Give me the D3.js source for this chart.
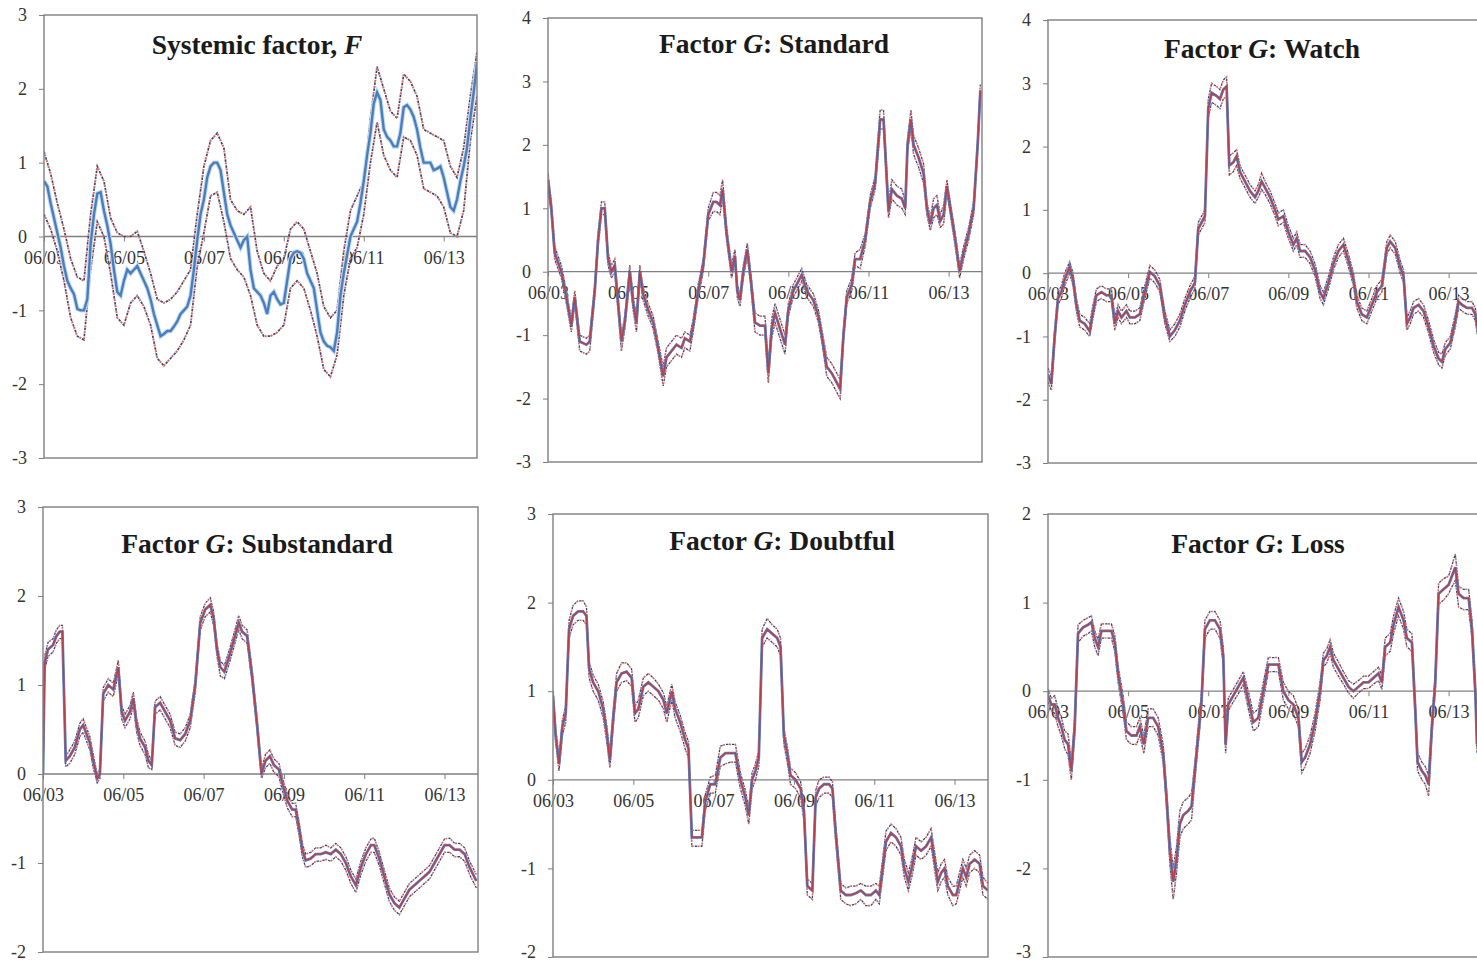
<!DOCTYPE html>
<html>
<head>
<meta charset="utf-8">
<script src="https://cdn.jsdelivr.net/npm/d3@7"></script>
<style>
  body { margin: 0; background: #fff; }
  svg { display: block; font-family: "Liberation Serif", "Times New Roman", serif; }
</style>
</head>
<body>
<svg id="chart"></svg>
<script>
// months counted from June 2003
const xTickMonths = [0, 24, 48, 72, 96, 120];
const xTickLabels = ['06/03', '06/05', '06/07', '06/09', '06/11', '06/13'];

// Systemic factor F: monthly mean, bands every two months
const fMid = [0.75,0.68,0.45,0.25,0.05,-0.15,-0.4,-0.6,-0.7,-0.78,
  -0.98,-1.0,-1.0,-0.85,-0.1,0.3,0.58,0.6,0.35,0.15,
  -0.1,-0.45,-0.75,-0.8,-0.6,-0.45,-0.5,-0.45,-0.4,-0.5,
  -0.6,-0.7,-0.85,-1.05,-1.2,-1.35,-1.32,-1.28,-1.28,-1.22,
  -1.15,-1.05,-1.0,-0.95,-0.8,-0.45,-0.05,0.3,0.5,0.8,
  0.95,1.0,1.0,0.9,0.6,0.3,0.15,0.05,-0.05,-0.15,
  -0.05,0.0,-0.45,-0.7,-0.75,-0.8,-0.9,-1.05,-0.8,-0.75,
  -0.85,-0.92,-0.9,-0.6,-0.3,-0.22,-0.2,-0.22,-0.3,-0.5,
  -0.6,-0.7,-1.0,-1.3,-1.42,-1.48,-1.5,-1.55,-1.3,-0.8,
  -0.5,-0.25,0.0,0.1,0.2,0.45,0.75,1.1,1.4,1.8,
  1.95,1.85,1.45,1.35,1.3,1.22,1.22,1.4,1.75,1.78,
  1.72,1.62,1.45,1.2,1.0,1.0,1.0,0.9,0.92,0.95,
  0.8,0.6,0.4,0.35,0.5,0.75,0.95,1.2,1.6,1.95,
  2.35];
const fHi = [1.15,0.85,0.45,0.1,-0.3,-0.55,-0.6,0.3,0.95,0.75,
  0.25,0.05,0.0,0.0,0.07,-0.2,-0.5,-0.85,-0.9,-0.85,
  -0.75,-0.6,-0.45,0.3,0.95,1.3,1.4,1.2,0.5,0.35,
  0.3,0.4,-0.2,-0.5,-0.6,-0.4,-0.3,0.1,0.2,0.1,
  -0.2,-0.5,-0.95,-1.1,-1.0,-0.2,0.35,0.55,0.75,1.6,
  2.3,2.0,1.7,1.6,2.2,2.1,1.9,1.45,1.4,1.35,
  1.3,0.95,0.8,1.2,1.9,2.5];
const fLo = [0.3,0.1,-0.2,-0.6,-1.1,-1.35,-1.4,-0.45,0.2,0.0,
  -0.5,-1.1,-1.2,-0.9,-0.8,-0.95,-1.2,-1.65,-1.75,-1.65,
  -1.55,-1.4,-1.2,-0.4,0.05,0.55,0.6,0.2,-0.3,-0.45,
  -0.55,-0.8,-1.2,-1.35,-1.35,-1.3,-1.2,-0.7,-0.6,-0.7,
  -1.0,-1.35,-1.8,-1.9,-1.6,-0.8,-0.3,-0.15,0.3,1.0,
  1.55,1.1,0.9,0.8,1.35,1.3,1.1,0.65,0.6,0.55,
  0.4,0.05,0.0,0.35,1.3,1.9];

// Factor G: Standard
const stdMonths = [0,1,2,3,4,5.5,7,8,9.5,11.5,12.5,14,15,16,17,18,19,20,22,23,24.5,25.5,26.5,27.5,28.5,30,31.5,33,34.5,35.5,
  37,38.5,40,41,42.5,43.5,45,46.5,48,49.5,50.5,51.5,52.3,53.5,55,56,56.7,57.5,58.5,59.7,60.7,62,63.5,65,66,67,68,69.5,71,72,
  73.5,75,76,77.5,79.5,81,82,83.5,85,86.5,87.5,88.5,89.5,91,92,93.5,95,96.5,98,99.5,100.5,102,103,104.5,106,107,107.7,108.7,109.5,111,
  112.5,113.5,114.5,115.5,116.5,117.5,118.5,119.5,120.5,122,123.3,124.5,126,127.5,128.7,129.5];
const stdMid = [1.45,1.0,0.3,0.15,0.0,-0.4,-0.85,-0.4,-1.1,-1.15,-1.1,-0.3,0.5,1.0,1.0,0.2,0.0,0.1,-1.1,-0.8,
  0.0,-0.5,-0.8,0.0,-0.35,-0.6,-0.8,-1.2,-1.65,-1.35,-1.25,-1.15,-1.2,-1.05,-1.1,-0.85,-0.3,0.1,0.9,1.1,
  1.1,1.05,1.3,0.6,0.0,0.25,-0.3,-0.45,0.0,0.35,-0.1,-0.8,-0.85,-0.85,-1.6,-0.9,-0.65,-0.9,-1.15,-0.6,
  -0.3,-0.15,-0.05,-0.3,-0.45,-0.7,-1.0,-1.5,-1.6,-1.75,-1.85,-1.0,-0.4,-0.2,0.2,0.2,0.5,1.1,1.4,2.4,
  2.4,0.95,1.3,1.2,1.15,1.0,2.0,2.4,2.0,1.8,1.55,1.0,0.75,1.0,1.05,0.8,0.9,1.35,1.0,0.5,
  0.0,0.3,0.6,1.0,2.0,2.85];
const stdHi = [1.55,1.1,0.4,0.25,0.1,-0.3,-0.75,-0.3,-1.0,-1.05,-1.0,-0.2,0.6,1.1,1.1,0.3,0.1,0.2,-1.0,-0.7,
  0.1,-0.4,-0.7,0.1,-0.25,-0.5,-0.7,-1.1,-1.5,-1.2,-1.1,-1.0,-1.05,-0.95,-1.0,-0.75,-0.2,0.2,1.0,1.25,
  1.25,1.2,1.45,0.7,0.1,0.35,-0.2,-0.35,0.1,0.45,0.0,-0.65,-0.7,-0.7,-1.5,-0.75,-0.5,-0.75,-1.0,-0.5,
  -0.2,-0.05,0.05,-0.2,-0.35,-0.6,-0.9,-1.35,-1.45,-1.6,-1.7,-0.9,-0.3,-0.1,0.3,0.35,0.6,1.2,1.5,2.55,
  2.55,1.1,1.45,1.35,1.3,1.1,2.1,2.55,2.15,1.95,1.7,1.1,0.85,1.15,1.2,0.9,1.05,1.45,1.1,0.6,
  0.1,0.4,0.7,1.1,2.1,2.95];
const stdLo = [1.3,0.9,0.2,0.05,-0.1,-0.5,-0.95,-0.5,-1.25,-1.3,-1.25,-0.4,0.4,0.9,0.9,0.1,-0.1,0.0,-1.25,-0.9,
  -0.1,-0.6,-0.95,-0.1,-0.45,-0.7,-0.9,-1.3,-1.8,-1.5,-1.4,-1.3,-1.35,-1.2,-1.25,-0.95,-0.4,0.0,0.8,0.95,
  0.95,0.9,1.15,0.5,-0.1,0.15,-0.4,-0.55,-0.1,0.25,-0.2,-0.95,-1.0,-1.0,-1.75,-1.05,-0.8,-1.05,-1.3,-0.7,
  -0.4,-0.25,-0.15,-0.4,-0.55,-0.8,-1.1,-1.65,-1.75,-1.9,-2.0,-1.1,-0.5,-0.3,0.1,0.05,0.4,1.0,1.3,2.25,
  2.25,0.85,1.15,1.05,1.0,0.9,1.9,2.25,1.85,1.65,1.4,0.9,0.65,0.85,0.9,0.7,0.75,1.25,0.9,0.4,
  -0.1,0.2,0.5,0.9,1.9,2.75];

// Factor G: Watch
const watchMonths = [0,1,2,3,4,5,6.5,7.5,8.5,9.5,11,12.5,13.5,14.5,16,17.5,19,20,21,22,23.5,24.5,26,27.5,29,30.5,32,33.5,35,36.5,
  38,39.5,41,42.5,44,45,46,47,48,49,50.5,51.5,52.5,53.5,54.3,55.5,56.5,57.5,59,60.5,62,63,64,65,66.5,68,69,70.5,72,73.5,
  74.5,75.5,77,78.5,80,81.5,82.5,84,85.5,87,88.5,90,91.5,92.5,94,95.5,97,98.5,100,101.5,102.5,104,105.5,106.5,107.5,108.5,109.5,111,112.5,114,
  115.5,117,118,119,120.5,122,123,124,125.5,127,128,129];
const watchMid = [-1.6,-1.75,-1.0,-0.4,-0.3,-0.1,0.1,-0.1,-0.5,-0.75,-0.8,-0.92,-0.6,-0.35,-0.3,-0.35,-0.35,-0.8,-0.6,-0.7,
  -0.6,-0.7,-0.7,-0.65,-0.3,0.02,-0.05,-0.2,-0.7,-1.0,-0.9,-0.75,-0.5,-0.3,-0.15,0.7,0.8,0.9,2.6,2.85,
  2.8,2.75,2.9,2.95,1.7,1.75,1.85,1.6,1.45,1.3,1.2,1.3,1.45,1.35,1.2,1.0,0.85,0.9,0.65,0.45,
  0.55,0.35,0.35,0.25,0.05,-0.3,-0.4,-0.15,0.15,0.35,0.45,0.2,-0.1,-0.45,-0.65,-0.7,-0.5,-0.3,-0.2,0.4,
  0.5,0.4,0.1,-0.05,-0.8,-0.7,-0.55,-0.5,-0.6,-0.85,-1.15,-1.35,-1.4,-1.2,-1.1,-0.75,-0.45,-0.5,-0.55,-0.55,
  -0.65,-1.0];
const watchHi = [-1.5,-1.62,-0.9,-0.3,-0.2,0.0,0.18,0.0,-0.4,-0.65,-0.7,-0.8,-0.5,-0.25,-0.2,-0.25,-0.25,-0.7,-0.5,-0.6,
  -0.5,-0.6,-0.6,-0.55,-0.2,0.12,0.05,-0.1,-0.6,-0.9,-0.8,-0.65,-0.4,-0.2,-0.05,0.8,0.9,1.0,2.75,3.0,
  2.95,2.9,3.05,3.1,1.85,1.9,1.95,1.7,1.55,1.4,1.3,1.4,1.58,1.45,1.3,1.1,0.95,1.0,0.75,0.55,
  0.65,0.45,0.45,0.35,0.15,-0.2,-0.3,-0.05,0.25,0.45,0.55,0.3,0.0,-0.35,-0.55,-0.6,-0.4,-0.2,-0.1,0.5,
  0.6,0.5,0.2,0.05,-0.7,-0.6,-0.45,-0.4,-0.5,-0.75,-1.05,-1.25,-1.28,-1.1,-1.0,-0.65,-0.35,-0.4,-0.45,-0.45,
  -0.55,-0.9];
const watchLo = [-1.72,-1.85,-1.1,-0.5,-0.4,-0.2,0.0,-0.2,-0.6,-0.85,-0.9,-1.0,-0.7,-0.45,-0.4,-0.45,-0.45,-0.9,-0.7,-0.8,
  -0.7,-0.8,-0.8,-0.75,-0.4,-0.08,-0.15,-0.3,-0.8,-1.08,-1.0,-0.85,-0.6,-0.4,-0.25,0.6,0.7,0.8,2.45,2.7,
  2.65,2.6,2.75,2.8,1.55,1.6,1.7,1.5,1.35,1.2,1.1,1.2,1.32,1.25,1.1,0.9,0.75,0.8,0.55,0.35,
  0.45,0.25,0.25,0.15,-0.05,-0.4,-0.5,-0.25,0.05,0.25,0.35,0.1,-0.2,-0.55,-0.75,-0.8,-0.6,-0.4,-0.3,0.3,
  0.4,0.3,0.0,-0.15,-0.9,-0.8,-0.65,-0.6,-0.7,-0.95,-1.25,-1.45,-1.5,-1.3,-1.2,-0.85,-0.55,-0.6,-0.65,-0.65,
  -0.75,-1.1];

// Factor G: Substandard
const subMonths = [0,0.5,1.5,3,4,5,5.8,6.8,8,9.5,11,12,13,14,15,16.2,17,18,19.5,21,22.5,23.5,24.5,26,27,28,29,30.5,31.5,32.5,
  33.5,35,36.5,38,39.5,41,42.5,44,45.5,47,48.5,50,51,52,53,54.2,55.5,57,58.5,59.5,61,62.5,64,65.3,66.5,67.8,69,70.5,71.5,73,
  74.5,75.5,76.5,77.5,78.5,80,81.5,83,84.5,86,87.5,89,90.5,92,93.5,95,96.5,98,99,100.5,102,103.5,105,106.5,108,109.5,111,112.5,114,115.5,
  117,118.5,120,121.5,123,124.5,126,127.5,129.5];
const subMid = [0.0,1.25,1.4,1.45,1.55,1.6,1.6,0.15,0.2,0.3,0.5,0.55,0.45,0.35,0.15,-0.05,0.0,0.9,1.0,0.95,
  1.2,0.7,0.6,0.7,0.85,0.55,0.4,0.3,0.15,0.1,0.75,0.8,0.7,0.6,0.4,0.38,0.45,0.6,1.0,1.7,
  1.85,1.9,1.75,1.4,1.2,1.15,1.3,1.5,1.7,1.6,1.55,1.1,0.55,0.0,0.15,0.2,0.1,0.05,-0.1,-0.3,
  -0.4,-0.4,-0.6,-0.85,-0.97,-0.95,-0.9,-0.9,-0.88,-0.9,-0.85,-0.9,-1.0,-1.15,-1.25,-1.05,-0.9,-0.8,-0.8,-0.95,
  -1.15,-1.35,-1.45,-1.5,-1.4,-1.3,-1.25,-1.2,-1.15,-1.1,-1.0,-0.9,-0.8,-0.8,-0.85,-0.85,-0.9,-1.05,-1.2];
const subHi = [0.05,1.32,1.48,1.52,1.62,1.67,1.67,0.2,0.27,0.37,0.57,0.62,0.52,0.42,0.22,0.0,0.05,0.97,1.07,1.02,
  1.28,0.77,0.67,0.77,0.92,0.62,0.47,0.37,0.22,0.15,0.82,0.87,0.77,0.67,0.47,0.45,0.52,0.67,1.07,1.77,
  1.92,1.98,1.82,1.47,1.27,1.22,1.37,1.57,1.78,1.67,1.62,1.17,0.62,0.05,0.22,0.27,0.17,0.12,-0.03,-0.23,
  -0.33,-0.33,-0.53,-0.78,-0.9,-0.88,-0.83,-0.83,-0.8,-0.83,-0.78,-0.83,-0.93,-1.08,-1.18,-0.98,-0.83,-0.73,-0.72,-0.88,
  -1.08,-1.28,-1.38,-1.43,-1.33,-1.23,-1.18,-1.13,-1.08,-1.03,-0.93,-0.83,-0.73,-0.72,-0.78,-0.78,-0.83,-0.98,-1.13];
const subLo = [-0.05,1.17,1.32,1.37,1.47,1.52,1.52,0.08,0.12,0.22,0.42,0.47,0.37,0.27,0.07,-0.1,-0.05,0.82,0.92,0.87,
  1.12,0.62,0.52,0.62,0.77,0.47,0.32,0.22,0.07,0.05,0.67,0.72,0.62,0.52,0.32,0.3,0.37,0.52,0.92,1.62,
  1.77,1.82,1.67,1.32,1.1,1.07,1.22,1.42,1.62,1.52,1.47,1.02,0.47,-0.05,0.07,0.12,0.02,-0.03,-0.18,-0.38,
  -0.48,-0.48,-0.68,-0.93,-1.05,-1.03,-0.98,-0.98,-0.96,-0.98,-0.93,-0.98,-1.08,-1.23,-1.33,-1.13,-0.98,-0.88,-0.88,-1.03,
  -1.23,-1.43,-1.53,-1.58,-1.48,-1.38,-1.33,-1.28,-1.23,-1.18,-1.08,-0.98,-0.88,-0.88,-0.93,-0.93,-0.98,-1.13,-1.28];

// Factor G: Doubtful
const dbtMonths = [0,0.8,1.8,2.8,3.8,4.8,6,7.5,9,10,10.8,12,13.5,15,16,17,18,19,20.5,22,23.5,24.5,25.5,27,28.5,30,31.5,33,34,35.5,
  36.5,38,39.5,40.5,41.5,43,44.5,45.5,47,48.5,50,51.5,53,54.5,56,57.5,58.5,59.5,60.5,61.5,62.5,64,65.5,67,68,69,70,71,72.5,74,
  75,76,77.5,78.5,79.5,81,82.5,83.5,84.5,86,87.5,89,90.5,92,93.5,95,96.5,97.5,98.5,99.5,101,102.5,104,105,106.2,107.2,108.5,110,111.5,113,
  114,115,116,117,118,119.5,120.5,121.5,122.5,123.5,124.5,126,127.5,128.5,130];
const dbtMid = [0.95,0.5,0.18,0.6,0.75,1.7,1.85,1.9,1.9,1.85,1.25,1.1,1.0,0.8,0.55,0.22,0.7,1.1,1.2,1.22,
  1.15,0.75,0.8,1.05,1.1,1.05,1.0,0.9,0.75,1.0,0.8,0.65,0.45,0.35,-0.65,-0.65,-0.65,-0.25,-0.05,-0.05,
  0.25,0.3,0.3,0.3,0.0,-0.2,-0.4,0.0,0.1,0.25,1.6,1.7,1.65,1.6,1.5,0.5,0.3,0.05,0.0,-0.1,
  -0.35,-1.2,-1.25,-0.2,-0.1,-0.05,-0.05,-0.1,-0.6,-1.25,-1.3,-1.3,-1.28,-1.25,-1.3,-1.3,-1.25,-1.3,-1.0,-0.7,
  -0.6,-0.65,-0.75,-1.0,-1.15,-1.0,-0.75,-0.8,-0.75,-0.65,-0.9,-1.15,-1.05,-1.0,-1.2,-1.3,-1.3,-1.15,-1.0,-1.1,
  -0.95,-0.9,-0.95,-1.2,-1.25];
const dbtHi = [1.0,0.58,0.25,0.68,0.83,1.8,1.97,2.02,2.02,1.95,1.33,1.18,1.08,0.88,0.63,0.3,0.78,1.2,1.32,1.32,
  1.25,0.83,0.9,1.15,1.2,1.15,1.08,0.98,0.83,1.08,0.88,0.73,0.53,0.43,-0.57,-0.57,-0.57,-0.17,0.03,0.05,
  0.38,0.4,0.4,0.4,0.08,-0.12,-0.32,0.08,0.18,0.33,1.7,1.82,1.75,1.7,1.6,0.58,0.38,0.13,0.08,-0.02,
  -0.27,-1.12,-1.17,-0.12,0.0,0.03,0.03,-0.02,-0.52,-1.17,-1.22,-1.2,-1.2,-1.17,-1.2,-1.2,-1.17,-1.2,-0.9,-0.58,
  -0.5,-0.55,-0.65,-0.9,-1.05,-0.9,-0.65,-0.7,-0.65,-0.55,-0.8,-1.05,-0.95,-0.9,-1.1,-1.2,-1.2,-1.05,-0.9,-1.0,
  -0.85,-0.8,-0.85,-1.1,-1.17];
const dbtLo = [0.88,0.42,0.1,0.5,0.65,1.6,1.75,1.8,1.8,1.75,1.15,1.0,0.9,0.7,0.45,0.14,0.6,1.0,1.1,1.12,
  1.05,0.65,0.7,0.95,1.0,0.95,0.9,0.8,0.65,0.9,0.7,0.55,0.35,0.25,-0.75,-0.75,-0.75,-0.35,-0.15,-0.15,
  0.15,0.18,0.2,0.2,-0.1,-0.3,-0.5,-0.1,0.0,0.15,1.5,1.6,1.55,1.5,1.4,0.4,0.2,-0.05,-0.1,-0.2,
  -0.45,-1.3,-1.35,-0.3,-0.2,-0.15,-0.15,-0.2,-0.7,-1.35,-1.4,-1.42,-1.4,-1.35,-1.42,-1.42,-1.35,-1.4,-1.1,-0.8,
  -0.7,-0.75,-0.85,-1.1,-1.25,-1.1,-0.85,-0.9,-0.85,-0.75,-1.0,-1.25,-1.15,-1.1,-1.3,-1.42,-1.4,-1.25,-1.1,-1.2,
  -1.05,-1.0,-1.05,-1.3,-1.35];

// Factor G: Loss
const lossMonths = [0,1,2,3,4,5,6,7,8,9,10.5,12,13,14,15,16,17.5,19,20,21,22.5,23.5,25,26.5,27.5,28.7,30,31.5,33,34.5,
  35.5,36.5,37.5,38.5,39.5,40.5,42,43,44,45,46,47,48.5,50,51.5,52.5,53.2,54,55.5,57,58.5,60,61.5,63,64.5,66,67.5,69,70.5,72,
  73.5,75,76,77,78.5,80,81.5,82.5,83.5,84.5,85.5,87,88.5,90,91.5,93,94.5,96,97.5,99,100,101,102.5,103.5,105,106.5,107.5,109,110,110.7,
  112,113,114,115,116,117,118.5,120,121,122,123,124.5,126,127,128,128.5];
const lossMid = [-0.05,-0.15,-0.15,-0.3,-0.4,-0.55,-0.6,-0.9,-0.4,0.65,0.72,0.75,0.78,0.6,0.5,0.68,0.68,0.68,0.55,0.2,
  -0.15,-0.45,-0.5,-0.5,-0.4,-0.6,-0.3,-0.3,-0.4,-0.7,-1.2,-1.8,-2.15,-1.9,-1.5,-1.4,-1.35,-1.3,-0.9,-0.5,
  -0.1,0.7,0.8,0.8,0.7,0.4,-0.6,-0.15,-0.05,0.05,0.15,-0.1,-0.35,-0.3,0.0,0.3,0.3,0.3,0.0,-0.1,
  -0.15,-0.3,-0.8,-0.75,-0.6,-0.35,0.0,0.35,0.4,0.5,0.35,0.25,0.15,0.05,0.0,0.05,0.1,0.1,0.15,0.2,
  0.1,0.5,0.55,0.75,0.95,0.8,0.6,0.55,-0.2,-0.8,-0.9,-0.95,-1.05,-0.4,0.1,1.1,1.15,1.2,1.3,1.4,
  1.1,1.05,1.05,0.7,0.0,-0.6];
const lossHi = [0.02,-0.08,-0.05,-0.2,-0.3,-0.45,-0.48,-0.8,-0.3,0.75,0.8,0.83,0.85,0.68,0.58,0.76,0.76,0.76,0.63,0.28,
  -0.05,-0.35,-0.4,-0.4,-0.3,-0.5,-0.2,-0.2,-0.3,-0.6,-1.1,-1.65,-2.0,-1.75,-1.35,-1.25,-1.2,-1.15,-0.8,-0.4,
  0.0,0.8,0.9,0.9,0.8,0.5,-0.5,-0.08,0.02,0.12,0.22,0.0,-0.25,-0.2,0.1,0.38,0.38,0.38,0.1,0.0,
  -0.05,-0.2,-0.7,-0.65,-0.5,-0.25,0.1,0.43,0.48,0.58,0.43,0.33,0.22,0.12,0.08,0.12,0.17,0.17,0.22,0.27,
  0.18,0.6,0.65,0.85,1.05,0.9,0.7,0.65,-0.1,-0.7,-0.8,-0.85,-0.95,-0.3,0.2,1.22,1.27,1.3,1.42,1.55,
  1.18,1.15,1.15,0.8,0.1,-0.5];
const lossLo = [-0.12,-0.22,-0.25,-0.4,-0.5,-0.65,-0.72,-1.0,-0.5,0.55,0.62,0.65,0.68,0.5,0.4,0.6,0.6,0.6,0.45,0.1,
  -0.25,-0.55,-0.6,-0.6,-0.5,-0.7,-0.4,-0.4,-0.5,-0.8,-1.3,-1.95,-2.35,-2.05,-1.65,-1.55,-1.5,-1.45,-1.0,-0.6,
  -0.2,0.6,0.7,0.7,0.6,0.3,-0.7,-0.22,-0.12,-0.03,0.08,-0.2,-0.45,-0.4,-0.1,0.22,0.22,0.22,-0.1,-0.2,
  -0.25,-0.4,-0.92,-0.85,-0.7,-0.45,-0.1,0.27,0.32,0.42,0.27,0.17,0.08,-0.02,-0.08,-0.02,0.03,0.03,0.08,0.12,
  0.02,0.4,0.45,0.65,0.85,0.7,0.5,0.45,-0.3,-0.9,-1.0,-1.05,-1.18,-0.5,0.0,0.98,1.03,1.1,1.18,1.25,
  0.95,0.92,0.92,0.6,-0.1,-0.7];

const W = 1477, H = 963;
const svg = d3.select('#chart').attr('width', W).attr('height', H);

const fMonths = d3.range(fMid.length);
const fBandMonths = d3.range(0, 131, 2);

// panel boxes
const panels = [
  { title: ['Systemic factor, ', 'F', ''], x: 44, y: 15, w: 433, h: 443, dom: [-3, 3], tx: 213, ty: 39, kind: 'F',
    mid: [fMonths, fMid], hi: [fBandMonths, fHi], lo: [fBandMonths, fLo] },
  { title: ['Factor ', 'G', ': Standard'], x: 548, y: 18, w: 434, h: 444, dom: [-3, 4], tx: 226, ty: 35, kind: 'G',
    mid: [stdMonths, stdMid], hi: [stdMonths, stdHi], lo: [stdMonths, stdLo] },
  { title: ['Factor ', 'G', ': Watch'], x: 1048, y: 20, w: 434, h: 443, dom: [-3, 4], tx: 214, ty: 38, kind: 'G',
    mid: [watchMonths, watchMid], hi: [watchMonths, watchHi], lo: [watchMonths, watchLo] },
  { title: ['Factor ', 'G', ': Substandard'], x: 43, y: 507, w: 435, h: 445, dom: [-2, 3], tx: 214, ty: 46, kind: 'G',
    mid: [subMonths, subMid], hi: [subMonths, subHi], lo: [subMonths, subLo] },
  { title: ['Factor ', 'G', ': Doubtful'], x: 553, y: 514, w: 435, h: 443, dom: [-2, 3], tx: 229, ty: 36, kind: 'G',
    mid: [dbtMonths, dbtMid], hi: [dbtMonths, dbtHi], lo: [dbtMonths, dbtLo] },
  { title: ['Factor ', 'G', ': Loss'], x: 1048, y: 514, w: 434, h: 443, dom: [-3, 2], tx: 210, ty: 39, kind: 'G',
    mid: [lossMonths, lossMid], hi: [lossMonths, lossHi], lo: [lossMonths, lossLo] }
];

const zip = (ms, vs) => ms.slice(0, Math.min(ms.length, vs.length)).map((m, i) => [m, vs[i]]);

panels.forEach((p, idx) => {
  const g = svg.append('g').attr('transform', `translate(${p.x},${p.y})`);
  const x = d3.scaleLinear().domain([0, 130]).range([0, p.w]);
  const y = d3.scaleLinear().domain(p.dom).range([p.h, 0]);

  g.append('clipPath').attr('id', 'clip' + idx)
    .append('rect').attr('width', p.w).attr('height', p.h);

  // y axis
  const yAxis = d3.axisLeft(y)
    .tickValues(d3.range(p.dom[0], p.dom[1] + 1))
    .tickFormat(d => String(d))
    .tickSize(5)
    .tickPadding(12);
  const ya = g.append('g').call(yAxis);
  ya.select('.domain').remove();
  ya.selectAll('line').attr('stroke', '#808080');
  ya.selectAll('text').attr('font-size', 18).attr('fill', '#333')
    .attr('font-family', '"Liberation Serif", serif');
  // lowest label sits right at the page edge; nudge it up so it stays visible
  if (p.y + p.h + 9 > H) ya.selectAll('.tick').filter(d => d === p.dom[0]).select('text').attr('dy', '0em');

  // zero line and date ticks
  const y0 = y(0);
  g.append('line').attr('x1', 0).attr('x2', p.w).attr('y1', y0).attr('y2', y0)
    .attr('stroke', '#808080').attr('stroke-width', 1.3);
  const xAxis = d3.axisBottom(x)
    .tickValues(xTickMonths)
    .tickFormat((d, i) => xTickLabels[i])
    .tickSize(5);
  const xa = g.append('g').attr('transform', `translate(0,${y0})`).call(xAxis);
  xa.select('.domain').remove();
  xa.selectAll('line').attr('stroke', '#808080');
  xa.selectAll('text').attr('y', 27).attr('dy', 0).attr('font-size', 18).attr('fill', '#333')
    .attr('font-family', '"Liberation Serif", serif');

  const line = d3.line().x(d => x(d[0])).y(d => y(d[1]));
  const lines = g.append('g').attr('clip-path', `url(#clip${idx})`);

  const bw = p.kind === 'F' ? 1.7 : 1.3;
  [p.lo, p.hi].forEach(b => {
    const pts = zip(b[0], b[1]);
    lines.append('path').datum(pts).attr('d', line).attr('fill', 'none')
      .attr('stroke', '#3a4577').attr('stroke-width', bw).attr('stroke-dasharray', '2.5,3.5');
    lines.append('path').datum(pts).attr('d', line).attr('fill', 'none')
      .attr('stroke', '#d6685e').attr('stroke-width', bw + 0.3).attr('stroke-dasharray', '2,4')
      .attr('stroke-dashoffset', 3);
  });

  const midPts = zip(p.mid[0], p.mid[1]);
  if (p.kind === 'F') {
    lines.append('path').datum(midPts).attr('d', line).attr('fill', 'none')
      .attr('stroke', '#c4daf2').attr('stroke-width', 4.5);
    lines.append('path').datum(midPts).attr('d', line).attr('fill', 'none')
      .attr('stroke', '#4a7ebb').attr('stroke-width', 2.4);
  } else {
    lines.append('path').datum(midPts).attr('d', line).attr('fill', 'none')
      .attr('stroke', '#5a84c2').attr('stroke-width', 2.8);
    lines.append('path').datum(midPts).attr('d', line).attr('fill', 'none')
      .attr('stroke', '#b5404e').attr('stroke-width', 1.5);
  }

  // frame
  g.append('rect').attr('width', p.w).attr('height', p.h)
    .attr('fill', 'none').attr('stroke', '#7f7f7f').attr('stroke-width', 1.4);

  // title
  const t = g.append('text').attr('x', p.tx).attr('y', p.ty).attr('text-anchor', 'middle')
    .attr('font-size', 27.5).attr('font-weight', 'bold').attr('fill', '#1a1a1a')
    .attr('font-family', '"Liberation Serif", serif');
  t.append('tspan').text(p.title[0]);
  t.append('tspan').attr('font-style', 'italic').text(p.title[1]);
  t.append('tspan').text(p.title[2]);
});
</script>
</body>
</html>
